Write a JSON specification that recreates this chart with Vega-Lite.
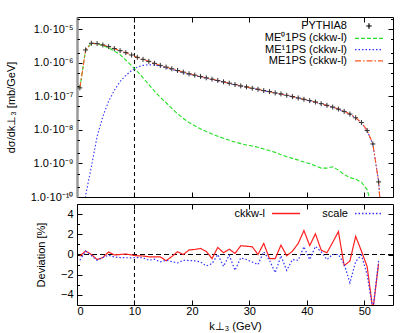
{
  "$schema": "https://vega.github.io/schema/vega-lite/v6.json",
  "background": "white",
  "padding": {"left": 4, "top": 16, "right": 15, "bottom": 2},
  "spacing": 0,
  "config": {
    "font": "Liberation Sans",
    "view": {"stroke": "#000", "strokeWidth": 1},
    "axis": {"labelFont": "Liberation Sans", "titleFont": "Liberation Sans", "labelFontSize": 11, "titleFontSize": 11, "titleFontWeight": "normal", "labelColor": "#000", "titleColor": "#000", "domain": false, "grid": false, "tickColor": "#000", "tickSize": -5, "labelPadding": 9},
    "legend": {"labelFont": "Liberation Sans", "labelFontSize": 11, "labelColor": "#000"}
  },
  "resolve": {"scale": {"color": "independent", "strokeDash": "independent"}, "legend": {"color": "independent", "strokeDash": "independent"}},
  "datasets": {
    "top": [
      {"k": 0.5, "p": 1.778e-7, "m0": 1.778e-7, "m1": 1e-12, "m": 1.778e-7},
      {"k": 1.5, "p": 2.399e-6, "m0": 2.399e-6, "m1": 1.122e-10, "m": 2.399e-6},
      {"k": 2.5, "p": 3.802e-6, "m0": 3.802e-6, "m1": 7.943e-10, "m": 3.802e-6},
      {"k": 3.5, "p": 3.715e-6, "m0": 3.631e-6, "m1": 6.31e-9, "m": 3.715e-6},
      {"k": 4.5, "p": 3.388e-6, "m0": 3.236e-6, "m1": 2.512e-8, "m": 3.388e-6},
      {"k": 5.5, "p": 3.02e-6, "m0": 2.754e-6, "m1": 7.079e-8, "m": 3.02e-6},
      {"k": 6.5, "p": 2.63e-6, "m0": 2.239e-6, "m1": 1.514e-7, "m": 2.63e-6},
      {"k": 7.5, "p": 2.291e-6, "m0": 1.738e-6, "m1": 2.754e-7, "m": 2.291e-6},
      {"k": 8.5, "p": 1.995e-6, "m0": 1.202e-6, "m1": 4.169e-7, "m": 1.995e-6},
      {"k": 9.5, "p": 1.698e-6, "m0": 8.128e-7, "m1": 5.888e-7, "m": 1.698e-6},
      {"k": 10.5, "p": 1.445e-6, "m0": 5.495e-7, "m1": 7.413e-7, "m": 1.445e-6},
      {"k": 11.5, "p": 1.259e-6, "m0": 3.548e-7, "m1": 8.318e-7, "m": 1.259e-6},
      {"k": 12.5, "p": 1.096e-6, "m0": 2.239e-7, "m1": 8.71e-7, "m": 1.096e-6},
      {"k": 13.5, "p": 9.55e-7, "m0": 1.413e-7, "m1": 8.511e-7, "m": 9.55e-7},
      {"k": 14.5, "p": 8.318e-7, "m0": 9.333e-8, "m1": 7.943e-7, "m": 8.318e-7},
      {"k": 15.5, "p": 7.413e-7, "m0": 6.457e-8, "m1": 7.079e-7, "m": 7.413e-7},
      {"k": 16.5, "p": 6.607e-7, "m0": 4.365e-8, "m1": 6.31e-7, "m": 6.607e-7},
      {"k": 17.5, "p": 5.888e-7, "m0": 3.02e-8, "m1": 5.586e-7, "m": 5.888e-7},
      {"k": 18.5, "p": 5.248e-7, "m0": 2.188e-8, "m1": 5.029e-7, "m": 5.248e-7},
      {"k": 19.5, "p": 4.677e-7, "m0": 1.66e-8, "m1": 4.511e-7, "m": 4.677e-7},
      {"k": 20.5, "p": 4.266e-7, "m0": 1.318e-8, "m1": 4.134e-7, "m": 4.266e-7},
      {"k": 21.5, "p": 3.89e-7, "m0": 1.072e-8, "m1": 3.783e-7, "m": 3.89e-7},
      {"k": 22.5, "p": 3.548e-7, "m0": 8.913e-9, "m1": 3.459e-7, "m": 3.548e-7},
      {"k": 23.5, "p": 3.236e-7, "m0": 7.586e-9, "m1": 3.16e-7, "m": 3.236e-7},
      {"k": 24.5, "p": 2.951e-7, "m0": 6.457e-9, "m1": 2.886e-7, "m": 2.951e-7},
      {"k": 25.5, "p": 2.692e-7, "m0": 5.623e-9, "m1": 2.636e-7, "m": 2.692e-7},
      {"k": 26.5, "p": 2.455e-7, "m0": 4.898e-9, "m1": 2.406e-7, "m": 2.455e-7},
      {"k": 27.5, "p": 2.239e-7, "m0": 4.365e-9, "m1": 2.195e-7, "m": 2.239e-7},
      {"k": 28.5, "p": 2.042e-7, "m0": 3.89e-9, "m1": 2.003e-7, "m": 2.042e-7},
      {"k": 29.5, "p": 1.905e-7, "m0": 3.548e-9, "m1": 1.87e-7, "m": 1.905e-7},
      {"k": 30.5, "p": 1.738e-7, "m0": 3.311e-9, "m1": 1.705e-7, "m": 1.738e-7},
      {"k": 31.5, "p": 1.622e-7, "m0": 3.02e-9, "m1": 1.592e-7, "m": 1.622e-7},
      {"k": 32.5, "p": 1.479e-7, "m0": 2.692e-9, "m1": 1.452e-7, "m": 1.479e-7},
      {"k": 33.5, "p": 1.38e-7, "m0": 2.399e-9, "m1": 1.356e-7, "m": 1.38e-7},
      {"k": 34.5, "p": 1.259e-7, "m0": 2.138e-9, "m1": 1.238e-7, "m": 1.259e-7},
      {"k": 35.5, "p": 1.175e-7, "m0": 1.82e-9, "m1": 1.157e-7, "m": 1.175e-7},
      {"k": 36.5, "p": 1.072e-7, "m0": 1.585e-9, "m1": 1.056e-7, "m": 1.072e-7},
      {"k": 37.5, "p": 9.772e-8, "m0": 1.413e-9, "m1": 9.63e-8, "m": 9.772e-8},
      {"k": 38.5, "p": 8.913e-8, "m0": 1.259e-9, "m1": 8.78e-8, "m": 8.913e-8},
      {"k": 39.5, "p": 8.128e-8, "m0": 1.096e-9, "m1": 8.02e-8, "m": 8.128e-8},
      {"k": 40.5, "p": 7.413e-8, "m0": 9.772e-10, "m1": 7.31e-8, "m": 7.413e-8},
      {"k": 41.5, "p": 6.761e-8, "m0": 8.511e-10, "m1": 6.68e-8, "m": 6.761e-8},
      {"k": 42.5, "p": 6.026e-8, "m0": 7.244e-10, "m1": 5.95e-8, "m": 6.026e-8},
      {"k": 43.5, "p": 5.37e-8, "m0": 7.244e-10, "m1": 5.3e-8, "m": 5.37e-8},
      {"k": 44.5, "p": 4.786e-8, "m0": 7.943e-10, "m1": 4.71e-8, "m": 4.786e-8},
      {"k": 45.5, "p": 4.169e-8, "m0": 6.31e-10, "m1": 4.11e-8, "m": 4.169e-8},
      {"k": 46.5, "p": 3.548e-8, "m0": 4.677e-10, "m1": 3.5e-8, "m": 3.548e-8},
      {"k": 47.5, "p": 2.951e-8, "m0": 3.802e-10, "m1": 2.91e-8, "m": 2.951e-8},
      {"k": 48.5, "p": 2.291e-8, "m0": 3.388e-10, "m1": 2.26e-8, "m": 2.291e-8},
      {"k": 49.5, "p": 1.66e-8, "m0": 2.754e-10, "m1": 1.63e-8, "m": 1.66e-8},
      {"k": 50.5, "p": 9.55e-9, "m0": 1.66e-10, "m1": 9.38e-9, "m": 9.55e-9},
      {"k": 51.5, "p": 3.802e-9, "m0": 3.98e-11, "m1": 3.76e-9, "m": 3.802e-9},
      {"k": 52.5, "p": 2.818e-10, "m0": 1e-12, "m1": 2.81e-10, "m": 2.818e-10},
      {"k": 53.5, "m0": 1e-12, "m1": 1e-12, "m": 1e-12}
    ],
    "dev": [
      {"k": 0.5, "c": -0.15, "s": -0.57},
      {"k": 1.5, "c": 0.35, "s": 0.33},
      {"k": 2.5, "c": 0.0, "s": -0.1},
      {"k": 3.5, "c": -0.5, "s": -0.57},
      {"k": 4.5, "c": -0.3, "s": -0.3},
      {"k": 5.5, "c": 0.25, "s": -0.07},
      {"k": 6.5, "c": -0.05, "s": -0.25},
      {"k": 7.5, "c": 0.0, "s": -0.3},
      {"k": 8.5, "c": 0.05, "s": -0.32},
      {"k": 9.5, "c": -0.05, "s": -0.33},
      {"k": 10.5, "c": -0.13, "s": -0.3},
      {"k": 11.5, "c": -0.15, "s": -0.33},
      {"k": 12.5, "c": -0.23, "s": -0.57},
      {"k": 13.5, "c": -0.23, "s": -0.47},
      {"k": 14.5, "c": -0.23, "s": -0.73},
      {"k": 15.5, "c": -0.62, "s": -0.57},
      {"k": 16.5, "c": -0.2, "s": -0.7},
      {"k": 17.5, "c": 0.27, "s": -0.83},
      {"k": 18.5, "c": 0.0, "s": -0.57},
      {"k": 19.5, "c": 0.45, "s": -0.6},
      {"k": 20.5, "c": 0.5, "s": -0.63},
      {"k": 21.5, "c": 0.6, "s": -0.73},
      {"k": 22.5, "c": 0.3, "s": -1.13},
      {"k": 23.5, "c": -0.4, "s": -0.9},
      {"k": 24.5, "c": 0.7, "s": 0.0},
      {"k": 25.5, "c": 0.17, "s": -1.17},
      {"k": 26.5, "c": 0.53, "s": -0.07},
      {"k": 27.5, "c": 0.1, "s": -1.57},
      {"k": 28.5, "c": 0.87, "s": -0.33},
      {"k": 29.5, "c": 0.82, "s": -0.5},
      {"k": 30.5, "c": 0.77, "s": -0.75},
      {"k": 31.5, "c": 0.0, "s": -1.0},
      {"k": 32.5, "c": 1.1, "s": 0.27},
      {"k": 33.5, "c": -0.4, "s": -0.57},
      {"k": 34.5, "c": -0.4, "s": -1.8},
      {"k": 35.5, "c": 0.93, "s": -0.13},
      {"k": 36.5, "c": -0.13, "s": -1.57},
      {"k": 37.5, "c": 0.33, "s": -0.5},
      {"k": 38.5, "c": 1.1, "s": -0.57},
      {"k": 39.5, "c": 2.37, "s": 0.77},
      {"k": 40.5, "c": 0.88, "s": -0.5},
      {"k": 41.5, "c": 2.05, "s": 0.8},
      {"k": 42.5, "c": 0.43, "s": 0.27},
      {"k": 43.5, "c": 0.17, "s": -0.5},
      {"k": 44.5, "c": 1.2, "s": 0.0},
      {"k": 45.5, "c": 2.27, "s": 0.0},
      {"k": 46.5, "c": -1.1, "s": -0.95},
      {"k": 47.5, "c": -0.65, "s": -2.8},
      {"k": 48.5, "c": 1.8, "s": -0.7},
      {"k": 49.5, "c": 0.35, "s": -0.05},
      {"k": 50.5, "c": -1.2, "s": -2.0},
      {"k": 51.5, "c": -5.5, "s": -5.5},
      {"k": 52.5, "c": -0.9, "s": -0.6}
    ]
  },
  "vconcat": [
    {
      "width": 316,
      "height": 180,
      "layer": [
        {
          "data": {"values": [{}]},
          "mark": {"type": "rule", "strokeDash": [4, 3], "color": "#000", "strokeWidth": 1},
          "encoding": {
            "x": {"datum": 10, "type": "quantitative", "scale": {"domain": [0, 55], "nice": false},
                  "axis": {"orient": "bottom", "values": [0, 10, 20, 30, 40, 50], "labels": false, "title": null}},
            "y": {"datum": 1e-10, "type": "quantitative", "scale": {"type": "log", "domain": [1e-10, 2.3e-5], "nice": false},
                  "axis": {"orient": "left", "values": [1e-10, 1e-9, 1e-8, 1e-7, 1e-6, 1e-5], "labelPadding": 9,
                           "domain": true, "domainColor": "#999", "domainWidth": 2.5,
                           "labelExpr": "'1.0·10' + (datum.value < 1.5e-10 ? '⁻¹⁰' : datum.value < 1.5e-9 ? '⁻⁹' : datum.value < 1.5e-8 ? '⁻⁸' : datum.value < 1.5e-7 ? '⁻⁷' : datum.value < 1.5e-6 ? '⁻⁶' : '⁻⁵')",
                           "title": "dσ/dk⊥₃   [mb/GeV]", "titlePadding": 14}},
            "y2": {"datum": 2.3e-5}
          }
        },
        {
          "data": {"name": "top"},
          "transform": [{"fold": ["m0", "m1", "m"], "as": ["series", "v"]}],
          "mark": {"type": "line", "strokeWidth": 1.1, "clip": true},
          "encoding": {
            "x": {"field": "k", "type": "quantitative", "scale": {"domain": [0, 55], "nice": false},
                  "axis": {"orient": "top", "values": [0, 10, 20, 30, 40, 50], "labels": false, "title": null}},
            "y": {"field": "v", "type": "quantitative", "scale": {"type": "log", "domain": [1e-10, 2.3e-5], "nice": false},
                  "axis": {"orient": "left", "values": [2e-10, 5e-10, 2e-9, 5e-9, 2e-8, 5e-8, 2e-7, 5e-7, 2e-6, 5e-6, 2e-5],
                           "labels": false, "title": null, "tickSize": -2.5}},
            "color": {"field": "series", "type": "nominal",
                      "scale": {"domain": ["p", "m0", "m1", "m"], "range": ["#000000", "#22e022", "#3333ff", "#ff5522"]},
                      "legend": {"orient": "none", "legendX": 286, "legendY": 3, "title": null, "direction": "vertical",
                                 "symbolType": "stroke", "symbolSize": 100, "symbolStrokeWidth": 1.2,
                                 "labelAlign": "right", "labelOffset": -28, "labelFontSize": 11, "labelLimit": 200,
                                 "rowPadding": 0.3,
                                 "labelExpr": "datum.value == 'p' ? 'PYTHIA8' : datum.value == 'm0' ? 'ME⁰1PS (ckkw-l)' : datum.value == 'm1' ? 'ME¹1PS (ckkw-l)' : 'ME1PS (ckkw-l)'",
                                 "encode": {"symbols": {"update": {"shape": {"signal": "datum.value == 'p' ? 'M-0.55,0H0.55M0,-0.55V0.55' : 'M-2.8,0H2.8'"}, "stroke": {"signal": "datum.value == 'p' ? '#222222' : datum.value == 'm0' ? '#22e022' : datum.value == 'm1' ? '#3333ff' : '#ff5522'"}}}}}},
            "strokeDash": {"field": "series", "type": "nominal",
                           "scale": {"domain": ["p", "m0", "m1", "m"], "range": [[1, 0], [4, 2], [1.5, 2], [6, 2, 1.5, 2]]},
                           "legend": {"orient": "none", "legendX": 286, "legendY": 3, "title": null, "direction": "vertical",
                                 "symbolType": "stroke", "symbolSize": 100, "symbolStrokeWidth": 1.2,
                                 "labelAlign": "right", "labelOffset": -28, "labelFontSize": 11, "labelLimit": 200,
                                 "rowPadding": 0.3,
                                 "labelExpr": "datum.value == 'p' ? 'PYTHIA8' : datum.value == 'm0' ? 'ME⁰1PS (ckkw-l)' : datum.value == 'm1' ? 'ME¹1PS (ckkw-l)' : 'ME1PS (ckkw-l)'",
                                 "encode": {"symbols": {"update": {"shape": {"signal": "datum.value == 'p' ? 'M-0.55,0H0.55M0,-0.55V0.55' : 'M-2.8,0H2.8'"}, "stroke": {"signal": "datum.value == 'p' ? '#222222' : datum.value == 'm0' ? '#22e022' : datum.value == 'm1' ? '#3333ff' : '#ff5522'"}}}}}}
          }
        },
        {
          "data": {"name": "top"},
          "mark": {"type": "point", "shape": "M-1,0H1M0,-1V1", "filled": false, "stroke": "#333", "strokeWidth": 1, "size": 25, "opacity": 1, "clip": true},
          "encoding": {
            "x": {"field": "k", "type": "quantitative", "scale": {"domain": [0, 55], "nice": false}, "axis": null},
            "y": {"field": "p", "type": "quantitative", "scale": {"type": "log", "domain": [1e-10, 2.3e-5], "nice": false},
                  "axis": {"orient": "right", "values": [1e-10, 2e-10, 5e-10, 1e-9, 2e-9, 5e-9, 1e-8, 2e-8, 5e-8, 1e-7, 2e-7, 5e-7, 1e-6, 2e-6, 5e-6, 1e-5, 2e-5],
                           "labels": false, "title": null,
                           "tickSize": {"condition": {"test": "abs(log(datum.value) / LN10 - round(log(datum.value) / LN10)) > 0.01", "value": -2.5}, "value": -5}}}
          }
        }
      ],
      "resolve": {"axis": {"x": "independent", "y": "independent"}}
    },
    {
      "width": 316,
      "height": 101,
      "layer": [
        {
          "data": {"values": [{}]},
          "mark": {"type": "rule", "strokeDash": [5, 3], "color": "#000", "strokeWidth": 1},
          "encoding": {
            "y": {"datum": 0, "type": "quantitative", "scale": {"domain": [-5, 5], "nice": false},
                  "axis": {"orient": "left", "values": [-4, -2, 0, 2, 4], "labelPadding": 9, "title": "Deviation [%]", "titlePadding": 14}}
          }
        },
        {
          "data": {"values": [{}]},
          "mark": {"type": "rule", "strokeDash": [4, 3], "color": "#000", "strokeWidth": 1},
          "encoding": {
            "x": {"datum": 10, "type": "quantitative", "scale": {"domain": [0, 55], "nice": false},
                  "axis": {"orient": "bottom", "values": [0, 10, 20, 30, 40, 50], "labelPadding": 5, "title": "k⊥₃ (GeV)", "titlePadding": 4.5}},
            "y": {"datum": -5, "type": "quantitative", "scale": {"domain": [-5, 5], "nice": false},
                  "axis": {"orient": "left", "values": [-3, -1, 1, 3], "labels": false, "title": null, "tickSize": -2.5}},
            "y2": {"datum": 5}
          }
        },
        {
          "data": {"name": "dev"},
          "transform": [{"fold": ["c", "s"], "as": ["dser", "d"]}],
          "mark": {"type": "line", "strokeWidth": 1.2, "clip": true},
          "encoding": {
            "x": {"field": "k", "type": "quantitative", "scale": {"domain": [0, 55], "nice": false},
                  "axis": {"orient": "top", "values": [0, 10, 20, 30, 40, 50], "labels": false, "title": null}},
            "y": {"field": "d", "type": "quantitative", "scale": {"domain": [-5, 5], "nice": false},
                  "axis": {"orient": "right", "values": [-4, -3, -2, -1, 0, 1, 2, 3, 4], "labels": false, "title": null,
                           "tickSize": {"condition": {"test": "datum.value % 2 != 0", "value": -2.5}, "value": -5}}},
            "color": {"field": "dser", "type": "nominal",
                      "scale": {"domain": ["c", "s"], "range": ["#ff2020", "#3333ff"]},
                      "legend": {"orient": "none", "legendX": 203, "legendY": 3.5, "title": null, "direction": "horizontal", "columns": 2,
                                 "symbolType": "stroke", "symbolSize": 100, "symbolStrokeWidth": 1.5,
                                 "labelAlign": "right", "labelOffset": -27, "labelFontSize": 11, "columnPadding": 19,
                                 "labelExpr": "datum.value == 'c' ? 'ckkw-l' : 'scale'",
                                 "encode": {"symbols": {"update": {"shape": {"value": "M-2.8,0H2.8"}, "stroke": {"signal": "datum.value == 'c' ? '#ff2020' : '#3333ff'"}, "strokeDash": {"signal": "datum.value == 'c' ? [30, 0] : [1.5, 2]"}}}}}},
            "strokeDash": {"field": "dser", "type": "nominal",
                           "scale": {"domain": ["c", "s"], "range": [[1, 0], [1.5, 2]]},
                           "legend": {"orient": "none", "legendX": 203, "legendY": 3.5, "title": null, "direction": "horizontal", "columns": 2,
                                 "symbolType": "stroke", "symbolSize": 100, "symbolStrokeWidth": 1.5,
                                 "labelAlign": "right", "labelOffset": -27, "labelFontSize": 11, "columnPadding": 19,
                                 "labelExpr": "datum.value == 'c' ? 'ckkw-l' : 'scale'",
                                 "encode": {"symbols": {"update": {"shape": {"value": "M-2.8,0H2.8"}, "stroke": {"signal": "datum.value == 'c' ? '#ff2020' : '#3333ff'"}, "strokeDash": {"signal": "datum.value == 'c' ? [30, 0] : [1.5, 2]"}}}}}}
          }
        }
      ],
      "resolve": {"axis": {"x": "independent", "y": "independent"}}
    }
  ]
}
